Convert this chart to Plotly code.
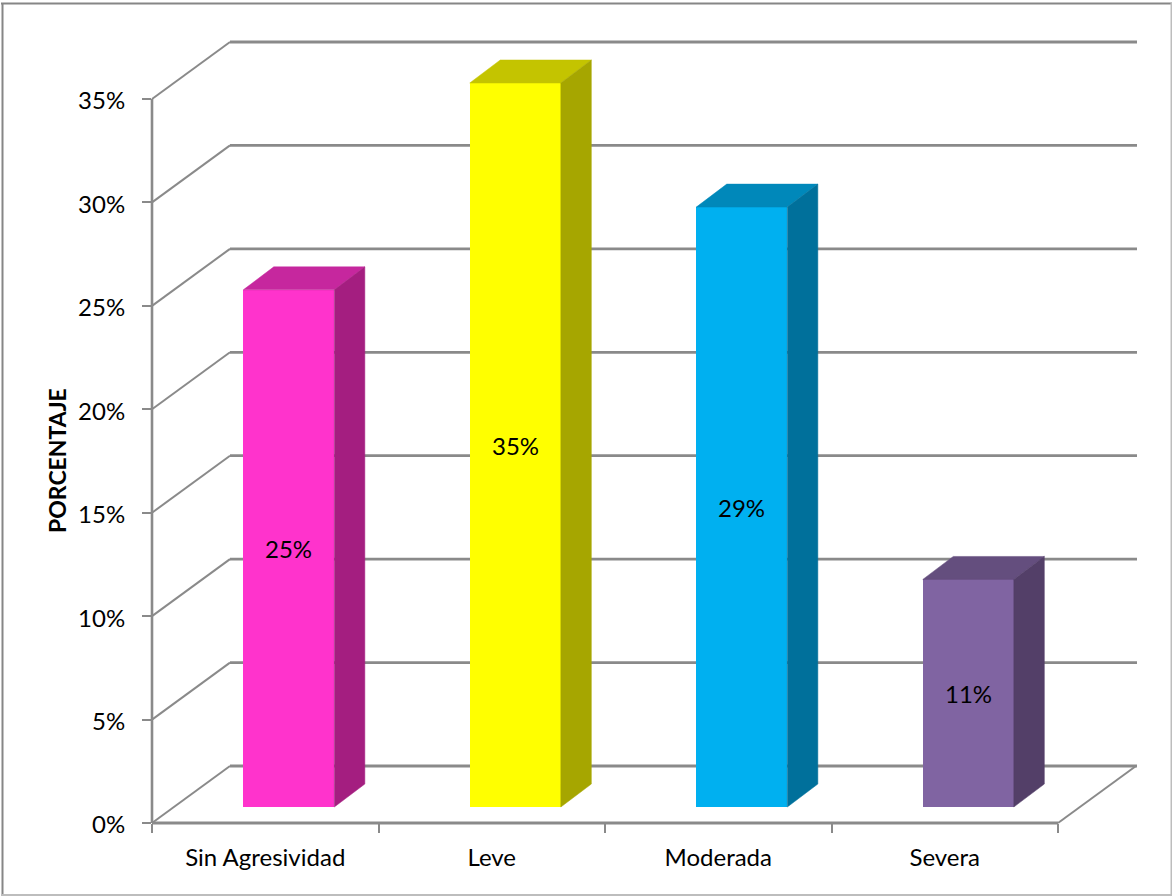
import plotly.graph_objects as go

categories = ["Sin Agresividad", "Leve", "Moderada", "Severa"]
values = [25, 35, 29, 11]
y_ticks = [0, 5, 10, 15, 20, 25, 30, 35]
front_colors = ["#FF33CC", "#FFFF00", "#00B0F0", "#8064A2"]
top_colors = ["#C6279E", "#C4C400", "#0088BA", "#644E7E"]
side_colors = ["#A41E80", "#A6A600", "#00709B", "#533F68"]

GREY = "#8A8A8A"
FONT = "Lato"
SIZE = 24

W, H = 1172, 896
L, R, T, B = 152, 35, 41, 73
PX_X = 226.5           # pixels per category
PX_Y = 20.686          # pixels per percentage point
x_range = [0, (W - L - R) / PX_X]
y_range = [0, (H - T - B) / PX_Y]
# the wall lines live on a full-page axis pair with the same scale, so they are not clipped at the axes
x_full = [-L / PX_X, (W - L) / PX_X]
y_full = [-B / PX_Y, (H - B) / PX_Y]

DX, DY = 78 / PX_X, 57 / PX_Y      # wall depth
BDX, BDY = 30.5 / PX_X, 23 / PX_Y  # bar depth
BAR_W = 0.402
BAR_X0 = 0.403
FLOOR = 16 / PX_Y                  # front gap of the bars above y=0

fig = go.Figure()


def line(xs, ys, width=2.0):
    fig.add_trace(go.Scatter(x=xs, y=ys, mode="lines",
                             line=dict(color=GREY, width=width),
                             xaxis="x", yaxis="y",
                             hoverinfo="skip", showlegend=False))


def poly(xs, ys, color):
    fig.add_trace(go.Scatter(x=xs, y=ys, mode="lines", fill="toself",
                             fillcolor=color, line=dict(color=color, width=0.5),
                             xaxis="x2", yaxis="y2",
                             hoverinfo="skip", showlegend=False))


n = len(categories)
for t in y_ticks:
    line([0, DX], [t, t + DY], 2.0)
    line([DX, x_range[1]], [t + DY, t + DY], 2.8)
line([0, n], [0, 0], 3.0)
line([n, n + DX], [0, DY], 2.0)
line([0, 0], [0, max(y_ticks)], 2.6)

# front faces
fig.add_trace(go.Bar(
    x=[BAR_X0 + BAR_W / 2 + i for i in range(n)], y=values, base=FLOOR, width=BAR_W,
    marker=dict(color=front_colors, line=dict(width=0)),
    text=[f"{v}%" for v in values], textposition="inside", insidetextanchor="middle",
    textangle=0, constraintext="none",
    textfont=dict(family=FONT, size=SIZE, color="black"),
    xaxis="x2", yaxis="y2", hoverinfo="skip", showlegend=False))

# top and side faces
for i, v in enumerate(values):
    x0 = i + BAR_X0
    x1 = x0 + BAR_W
    y0 = FLOOR
    y1 = FLOOR + v
    poly([x0, x1, x1 + BDX, x0 + BDX, x0], [y1, y1, y1 + BDY, y1 + BDY, y1], top_colors[i])
    poly([x1, x1 + BDX, x1 + BDX, x1, x1], [y0, y0 + BDY, y1 + BDY, y1, y0], side_colors[i])


def border(x0, y0, x1, y1, color):
    return dict(type="line", xref="paper", yref="paper",
                x0=x0 / W, x1=x1 / W, y0=1 - y0 / H, y1=1 - y1 / H,
                line=dict(color=color, width=2), layer="below")


fig.update_layout(
    width=W, height=H,
    margin=dict(l=0, r=0, t=0, b=0, autoexpand=False),
    paper_bgcolor="white", plot_bgcolor="rgba(0,0,0,0)",
    font=dict(family=FONT, size=SIZE, color="black"),
    showlegend=False,
    bargap=0,
    xaxis=dict(domain=[0, 1], range=x_full, visible=False, anchor="y"),
    yaxis=dict(domain=[0, 1], range=y_full, visible=False, anchor="x"),
    xaxis2=dict(domain=[L / W, (W - R) / W], range=x_range, anchor="y2",
                showgrid=False, zeroline=False, showline=False,
                tickmode="array", tickvals=[i + 0.5 for i in range(n)], ticktext=categories,
                ticks="", ticklabelstandoff=18,
                minor=dict(tickmode="array", tickvals=list(range(n + 1)), ticks="outside",
                           ticklen=9, tickwidth=2, tickcolor=GREY, showgrid=False)),
    yaxis2=dict(domain=[B / H, (H - T) / H], range=y_range, anchor="x2",
                showgrid=False, zeroline=False, showline=False,
                tickmode="array", tickvals=y_ticks, ticktext=[f"{t}%" for t in y_ticks],
                ticks="outside", ticklen=9, tickwidth=2, tickcolor=GREY, ticklabelstandoff=12,
                ticklabelshift=2),
    annotations=[dict(text="<b>PORCENTAJE</b>", textangle=-90, xref="paper", yref="paper",
                      x=57 / W, y=1 - 461 / H, xanchor="center", yanchor="middle",
                      showarrow=False, font=dict(family=FONT, size=23, color="black"))],
    shapes=[border(1, 3.5, 1172, 3.5, "#868686"), border(2.5, 3, 2.5, 896, "#868686"),
            border(1171.5, 3, 1171.5, 896, "#BDBDBD"), border(1, 895, 1172, 895, "#BDBDBD")],
)

fig.write_html("out.html", config=dict(displayModeBar=False),
               post_script="document.body.style.margin='0';document.body.style.overflow='hidden';")
